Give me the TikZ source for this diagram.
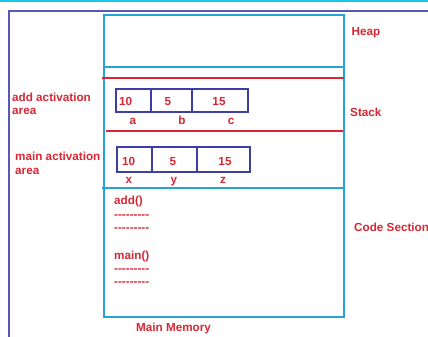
\documentclass[tikz,border=0pt]{standalone}
\usepackage{fontspec}
\setmainfont{Liberation Sans}
\usepackage{xcolor}
\usepackage{tikz}
\definecolor{memred}{RGB}{216,38,52}
\definecolor{memcyan}{RGB}{38,162,212}
\definecolor{framblue}{RGB}{88,88,182}
\definecolor{cellblue}{RGB}{62,62,168}
\newcommand{\dashrow}{-{}-{}-{}-{}-{}-{}-{}-{}-}

\begin{document}
\begin{tikzpicture}[x=1pt, y=-1pt,
    txt/.style={text=memred, font=\bfseries\fontsize{11.7}{14}\selectfont, inner sep=0pt},
    cell/.style={draw=cellblue, line width=1.8pt, rectangle, inner sep=0pt}]
        \useasboundingbox (0,0) rectangle (428,337);
        % frame and memory box
        \draw[memcyan!60!cyan, line width=1.5pt] (0,0.8) -- (428,0.8);
        \draw[framblue, line width=1.5pt] (9,337) -- (9,11) -- (428,11);
        \node[draw=memcyan, line width=2pt, rectangle, minimum width=240pt, minimum height=302pt] (mem) at (224,166) {};
        \draw[memcyan, line width=1.6pt] (104,67) -- (344,67);
        \draw[memred, line width=1.6pt] (102,78) -- (344,78);
        \draw[memred, line width=1.6pt] (106,131) -- (343,131);
        \draw[memcyan, line width=1.6pt] (102,188) -- (345,188);
        % add activation record
        \node[cell, minimum width=35pt, minimum height=23pt] (a) at (133.5,100.5) {};
        \node[cell, minimum width=41pt, minimum height=23pt] (b) at (171.5,100.5) {};
        \node[cell, minimum width=56pt, minimum height=23pt] (c) at (220,100.5) {};
        \node[txt, anchor=base west] (aval) at (119,105) {10};
        \node[txt, anchor=base] (bval) at (168,105) {5};
        \node[txt, anchor=base] (cval) at (219,105) {15};
        \node[txt, anchor=base] (aname) at (133,124) {a};
        \node[txt, anchor=base] (bname) at (182,124) {b};
        \node[txt, anchor=base] (cname) at (231,124) {c};
        % main activation record
        \node[cell, minimum width=35pt, minimum height=25pt] (x) at (134.5,159.5) {};
        \node[cell, minimum width=45pt, minimum height=25pt] (y) at (174.5,159.5) {};
        \node[cell, minimum width=53pt, minimum height=25pt] (z) at (223.5,159.5) {};
        \node[txt, anchor=base west] (xval) at (122,165) {10};
        \node[txt, anchor=base] (yval) at (173,165) {5};
        \node[txt, anchor=base] (zval) at (225,165) {15};
        \node[txt, anchor=base] (xname) at (129,183) {x};
        \node[txt, anchor=base] (yname) at (174,183) {y};
        \node[txt, anchor=base] (zname) at (223,183) {z};
        % code section
        \node[txt, anchor=base west] (addfn) at (114,204) {add()};
        \node[txt, anchor=base west] (adddash1) at (114,218.5) {\dashrow};
        \node[txt, anchor=base west] (adddash2) at (114,231.5) {\dashrow};
        \node[txt, anchor=base west] (mainfn) at (114,259) {main()};
        \node[txt, anchor=base west] (maindash1) at (114,272.5) {\dashrow};
        \node[txt, anchor=base west] (maindash2) at (114,285.5) {\dashrow};
        % labels
        \node[txt, anchor=base west] (addlbl) at (12,101) {add activation};
        \node[txt, anchor=base west] (addlbl2) at (12,114) {area};
        \node[txt, anchor=base west] (mainlbl) at (15,160.5) {main activation};
        \node[txt, anchor=base west] (mainlbl2) at (15,174) {area};
        \node[txt, anchor=base west] (heap) at (351.5,36) {Heap};
        \node[txt, anchor=base west] (stack) at (350,116) {Stack};
        \node[txt, anchor=base west] (code) at (354,231.5) {Code Section};
        \node[txt, anchor=base west] (mm) at (136,331.5) {Main Memory};
    \end{tikzpicture}
\end{document}
